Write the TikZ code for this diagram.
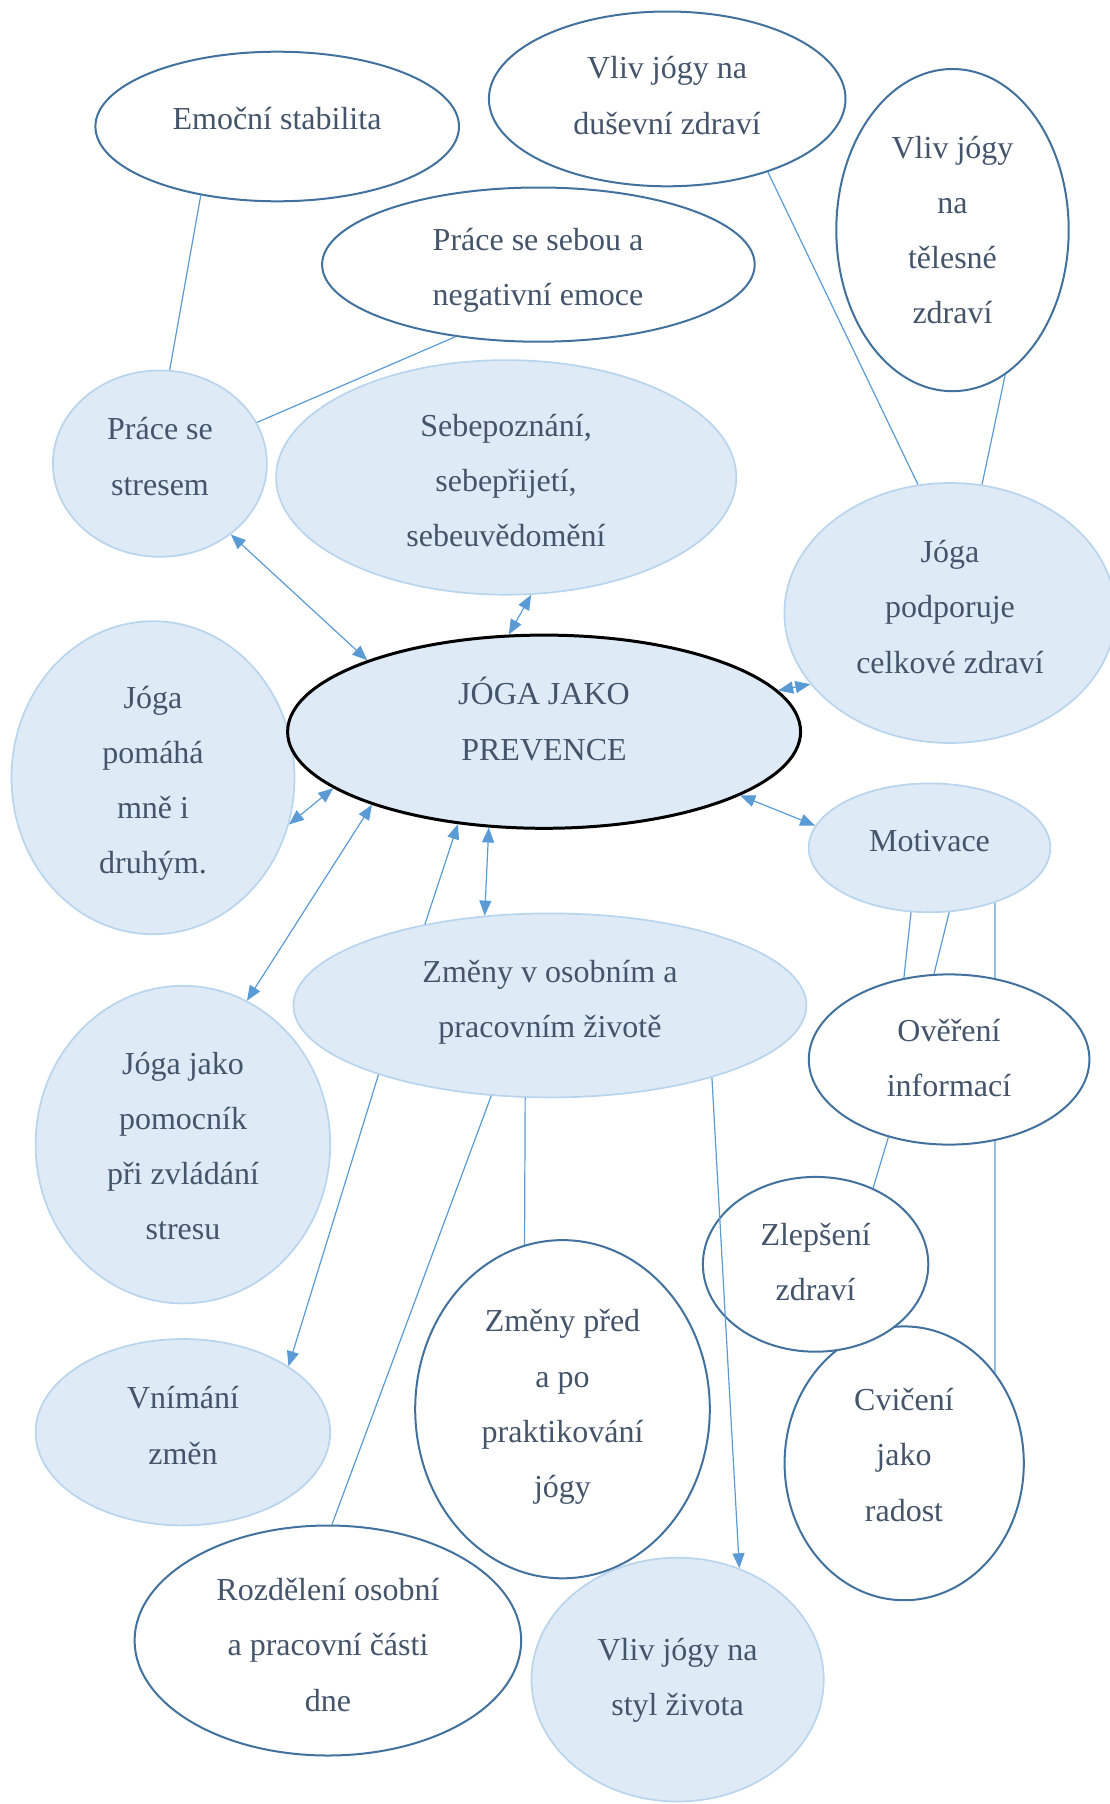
\documentclass[tikz,border=0pt]{standalone}
\usepackage{fontspec}
\setmainfont{Liberation Serif}
\usetikzlibrary{shapes.geometric,arrows.meta,backgrounds}
\definecolor{lightF}{HTML}{DEEBF7}
\definecolor{lightB}{HTML}{B9D4ED}
\definecolor{darkB}{HTML}{41719C}
\definecolor{txtC}{HTML}{44546A}
\definecolor{connC}{HTML}{5B9BD5}
\tikzset{
  lightell/.style={ellipse, draw=lightB, fill=lightF, line width=0.85pt, inner sep=0pt},
  darkell/.style={ellipse, draw=darkB, fill=white, line width=1pt, inner sep=0pt},
  mainell/.style={ellipse, draw=black, fill=lightF, line width=1.5pt, inner sep=0pt},
  txt/.style={font=\fontsize{16}{27.6}\selectfont, text=txtC, align=center, inner sep=0pt},
  conn/.style={draw=connC, line width=0.6pt},
  arr/.style={conn, -{Triangle[length=7.5pt,width=6pt]}},
  darr/.style={conn, {Triangle[length=7.5pt,width=6pt]}-{Triangle[length=7.5pt,width=6pt]}},
}
\begin{document}
\begin{tikzpicture}[x=0.5pt,y=-0.5pt]
\useasboundingbox (0,0) rectangle (1109,1804);
% ellipses
\node[darkell, minimum width=181.8pt, minimum height=74.8pt] (emo) at (277.2,126.5) {};
\node[darkell, minimum width=178.3pt, minimum height=87.4pt] (dus) at (667.2,98.9) {};
\node[darkell, minimum width=116.2pt, minimum height=161.1pt] (tel) at (952.5,230.1) {};
\node[darkell, minimum width=216.3pt, minimum height=77.1pt] (seb) at (538.4,264.6) {};
\node[lightell, minimum width=107pt, minimum height=93.2pt] (str) at (159.9,463.6) {};
\node[lightell, minimum width=230.1pt, minimum height=117.3pt] (sep) at (506.2,477.4) {};
\node[lightell, minimum width=165.6pt, minimum height=130pt] (cel) at (950,613) {};
\node[lightell, minimum width=141.5pt, minimum height=156.5pt] (pom) at (153,777.7) {};
\node[mainell, minimum width=256.5pt, minimum height=96.6pt] (jog) at (544.1,731.7) {};
\node[lightell, minimum width=120.8pt, minimum height=64.4pt] (mot) at (929.5,847.8) {};
\node[lightell, minimum width=256.5pt, minimum height=92pt] (zme) at (549.9,1005.4) {};
\node[darkell, minimum width=140.3pt, minimum height=85.1pt] (ove) at (949.1,1059.5) {};
\node[lightell, minimum width=147.3pt, minimum height=158.8pt] (poc) at (182.9,1144.6) {};
\node[darkell, minimum width=119.6pt, minimum height=136.9pt] (cvi) at (904.2,1463.3) {};
\node[darkell, minimum width=112.7pt, minimum height=87.4pt] (zle) at (815.6,1264.3) {};
\node[darkell, minimum width=147.3pt, minimum height=169.1pt] (pre) at (562.5,1409.2) {};
\node[lightell, minimum width=147.3pt, minimum height=93.2pt] (vni) at (182.9,1432.2) {};
\node[darkell, minimum width=193.3pt, minimum height=115pt] (roz) at (327.9,1640.5) {};
\node[lightell, minimum width=146.1pt, minimum height=121.9pt] (sty) at (677.6,1679.6) {};
% texts
\node[txt] (emoT) at (277,118.5) {Emoční stabilita};
\node[txt] (dusT) at (667,95.5) {Vliv jógy na\\duševní zdraví};
\node[txt] (telT) at (952.5,230) {Vliv jógy\\na\\tělesné\\zdraví};
\node[txt] (sebT) at (538,270.5) {Práce se sebou a\\negativní emoce};
\node[txt] (strT) at (160,456.5) {Práce se\\stresem};
\node[txt] (sepT) at (506,480.5) {Sebepoznání,\\sebepřijetí,\\sebeuvědomění};
\node[txt] (celT) at (950,607) {Jóga\\podporuje\\celkové zdraví};
\node[txt] (jogT) at (544,719) {JÓGA JAKO\\PREVENCE};
\node[txt] (pomT) at (153,783.5) {Jóga\\pomáhá\\mně i\\druhým.};
\node[txt] (motT) at (929.5,841) {Motivace};
\node[txt] (zmeT) at (550,1002) {Změny v osobním a\\pracovním životě};
\node[txt] (oveT) at (949,1058) {Ověření\\informací};
\node[txt] (pocT) at (183,1146) {Jóga jako\\pomocník\\při zvládání\\stresu};
\node[txt] (zleT) at (815.6,1262) {Zlepšení\\zdraví};
\node[txt] (cviT) at (904,1455) {Cvičení\\jako\\radost};
\node[txt] (preT) at (562.5,1407) {Změny před\\a po\\praktikování\\jógy};
\node[txt] (vniT) at (183,1425.5) {Vnímání\\změn};
\node[txt] (rozT) at (328,1645) {Rozdělení osobní\\a pracovní části\\dne};
\node[txt] (styT) at (677.6,1680) {Vliv jógy na\\styl života};
% connectors behind
\begin{pgfonlayer}{background}
\draw[conn] (mot.-40.6) -- (cvi.45.2);
\end{pgfonlayer}
% connectors
\draw[conn] (emo.-138.5) -- (str.84.4);
\draw[conn] (seb.-139.3) -- (str.23.1);
\draw[conn] (dus.-36.4) -- (cel.104.6);
\draw[conn] (tel.-70.3) -- (cel.76.4);
\draw[darr] (str.-45) -- (jog.158.7);
\draw[darr] (sep.-78.2) -- (jog.110.3);
\draw[darr] (cel.-153.7) -- (jog.10.3);
\draw[darr] (pom.-19.4) -- (jog.-165.6);
\draw[darr] (poc.66) -- (jog.-157.9);
\draw[arr] (zme.147.2) -- (jog.-133.6);
\draw[darr] (zme.126.1) -- (jog.-120.8);
\draw[darr] (mot.169.9) -- (jog.-18.3);
\draw[conn] (mot.-106.6) -- (ove.119.5);
\draw[conn] (mot.-73.3) -- (ove.100.8);
\draw[conn] (ove.-128.7) -- (zle.53.4);
\draw[arr] (zme.-158) -- (vni.32);
\draw[conn] (zme.-123) -- (roz.88.9);
\draw[conn] (zme.-105.9) -- (pre.103.2);
\draw[arr] (zme.-24.4) -- (sty.61.6);
\end{tikzpicture}
\end{document}
